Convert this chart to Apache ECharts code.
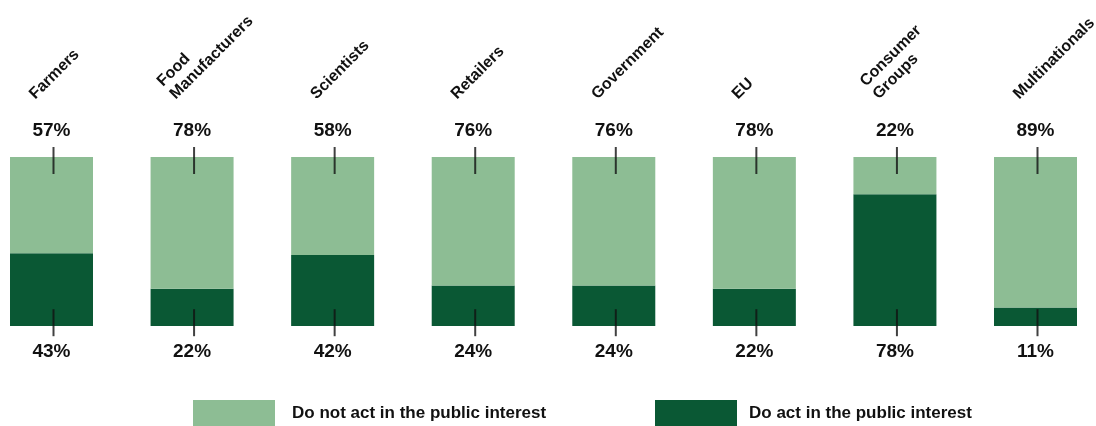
<!DOCTYPE html>
<html>
<head>
<meta charset="utf-8">
<script src="https://cdn.jsdelivr.net/npm/echarts@6/dist/echarts.min.js"></script>
<style>
html,body{margin:0;padding:0;background:#fff;}
#chart{width:1096px;height:426px;}
</style>
</head>
<body>
<div id="chart"></div>
<script>
const categories = ['Farmers', 'Food\nManufacturers', 'Scientists', 'Retailers', 'Government', 'EU', 'Consumer\nGroups', 'Multinationals'];
const doNotAct = [57, 78, 58, 76, 76, 78, 22, 89];
const doAct = [43, 22, 42, 24, 24, 22, 78, 11];
const seriesNames = ['Do not act in the public interest', 'Do act in the public interest'];

const FONT = "'Liberation Sans', Arial, Helvetica, sans-serif";
const LIGHT = '#8dbd94';
const DARK = '#0a5834';

const chart = echarts.init(document.getElementById('chart'));
const topTicks = categories.map(() => 100);
const bottomTicks = categories.map(() => 0);

chart.setOption({
  animation: false,
  backgroundColor: '#ffffff',
  textStyle: { fontFamily: FONT },
  grid: [
    { left: 51.5, right: 60.5, top: 157, bottom: 100, outerBoundsMode: 'none' },
    { left: 38.5, right: 73.5, top: 157, bottom: 100, outerBoundsMode: 'none' }
  ],
  legend: [
    {
      data: [seriesNames[0]], left: 193, top: 400, itemWidth: 82, itemHeight: 26,
      icon: 'rect', selectedMode: false, padding: 0,
      textStyle: { fontFamily: FONT, fontSize: 17, fontWeight: 'bold', color: '#111', padding: [0, 0, 0, 12] }
    },
    {
      data: [seriesNames[1]], left: 655, top: 400, itemWidth: 82, itemHeight: 26,
      icon: 'rect', selectedMode: false, padding: 0,
      textStyle: { fontFamily: FONT, fontSize: 17, fontWeight: 'bold', color: '#111', padding: [0, 0, 0, 7] }
    }
  ],
  xAxis: [
    {
      type: 'category', gridIndex: 0, data: categories, boundaryGap: false,
      axisLine: { show: false }, axisTick: { show: false }, axisLabel: { show: false }
    },
    {
      type: 'category', gridIndex: 1, data: categories, boundaryGap: false, position: 'top',
      axisLine: { show: false }, axisTick: { show: false },
      axisLabel: {
        rotate: 45, margin: 54, interval: 0, align: 'left', verticalAlign: 'bottom',
        fontFamily: FONT, fontSize: 16, fontWeight: 'bold', color: '#111', lineHeight: 18
      }
    }
  ],
  yAxis: [
    { type: 'value', gridIndex: 0, min: 0, max: 100, show: false },
    { type: 'value', gridIndex: 1, min: 0, max: 100, show: false }
  ],
  series: [
    {
      name: seriesNames[1], type: 'bar', stack: 'total', data: doAct, barWidth: 83,
      clip: false, itemStyle: { color: DARK },
      label: {
        show: true, position: 'bottom', distance: 16, formatter: '{c}%',
        fontFamily: FONT, fontSize: 19, fontWeight: 'bold', color: '#111'
      }
    },
    {
      name: seriesNames[0], type: 'bar', stack: 'total', data: doNotAct, barWidth: 83,
      clip: false, itemStyle: { color: LIGHT },
      label: {
        show: true, position: 'top', distance: 17, formatter: '{c}%',
        fontFamily: FONT, fontSize: 19, fontWeight: 'bold', color: '#111'
      }
    },
    {
      type: 'scatter', data: topTicks, symbol: 'rect', symbolSize: [2, 27], symbolOffset: [2, 3.5],
      clip: false, z: 5, itemStyle: { color: '#111' }, silent: true
    },
    {
      type: 'scatter', data: bottomTicks, symbol: 'rect', symbolSize: [2, 27], symbolOffset: [2, -3.3],
      clip: false, z: 5, itemStyle: { color: '#111' }, silent: true
    }
  ]
});
</script>
</body>
</html>
